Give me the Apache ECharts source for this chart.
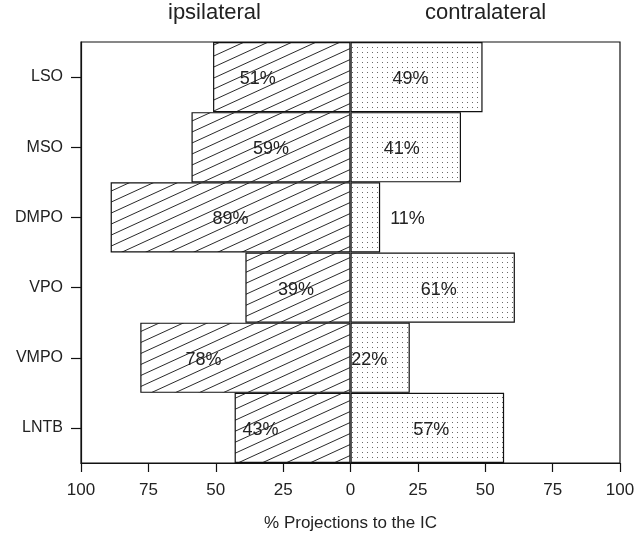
<!DOCTYPE html>
<html>
<head>
<meta charset="utf-8">
<script src="https://cdn.jsdelivr.net/npm/echarts@6/dist/echarts.min.js"></script>
<style>html,body{margin:0;padding:0;background:#fff}#c{width:639px;height:533px}</style>
</head>
<body>
<div id="c"></div>
<script>
var categories = ['LSO', 'MSO', 'DMPO', 'VPO', 'VMPO', 'LNTB'];
var ipsilateral = [51, 59, 89, 39, 78, 43];
var contralateral = [49, 41, 11, 61, 22, 57];
var xTicks = [-100, -75, -50, -25, 0, 25, 50, 75, 100];

// label horizontal nudges (layout only)
var ipsiShift = [-24, 0, 0, -2, -42, -32];
var contraShift = [-6, -4, 0, 6, -11, 4];

function hatchPattern() {
  var c = document.createElement('canvas');
  c.width = 24; c.height = 11;
  var g = c.getContext('2d');
  g.fillStyle = '#fff'; g.fillRect(0, 0, 24, 11);
  g.strokeStyle = '#111'; g.lineWidth = 0.9;
  for (var n = -1; n <= 1; n++) {
    g.beginPath();
    g.moveTo(-2, 11 + 11 * n + 2 * 11 / 24);
    g.lineTo(26, 11 + 11 * n - 26 * 11 / 24);
    g.stroke();
  }
  return c;
}
function dotPattern() {
  var c = document.createElement('canvas');
  c.width = 5; c.height = 5;
  var g = c.getContext('2d');
  g.fillStyle = '#fff'; g.fillRect(0, 0, 5, 5);
  g.fillStyle = '#6a6a6a'; g.fillRect(2, 2, 1, 1);
  return c;
}

var font = 'Liberation Sans';
var txt = '#222';
var chart = echarts.init(document.getElementById('c'), null, {renderer: 'canvas'});

var ipsiData = ipsilateral.map(function (v, i) {
  return {value: -v, label: {offset: [ipsiShift[i], 2]}};
});
var contraData = contralateral.map(function (v, i) {
  var item = {value: v, label: {offset: [contraShift[i], 2]}};
  if (v < 20) item.label = {position: 'right', distance: 10, offset: [0, 2]};
  return item;
});

chart.setOption({
  animation: false,
  grid: {left: 81, right: 19, top: 42, bottom: 70, outerBoundsMode: 'none', containLabel: false,
    show: true, borderColor: '#111', borderWidth: 1.2, backgroundColor: 'transparent'},
  graphic: [
    {type: 'text', left: 168, top: 2, style: {text: 'ipsilateral', font: '22px "Liberation Sans"', fill: txt}},
    {type: 'text', left: 425, top: 2, style: {text: 'contralateral', font: '22px "Liberation Sans"', fill: txt}}
  ],
  xAxis: {
    type: 'value', min: -100, max: 100, interval: 25,
    axisLine: {show: true, onZero: false, lineStyle: {color: '#111', width: 1.2}},
    axisTick: {show: true, inside: false, length: 9, lineStyle: {color: '#111', width: 1.2}},
    splitLine: {show: false},
    axisLabel: {
      margin: 19, fontFamily: font, fontSize: 17, color: txt,
      formatter: function (v) { return xTicks.indexOf(v) >= 0 ? String(Math.abs(v)) : ''; }
    },
    name: '% Projections to the IC', nameLocation: 'middle', nameGap: 52,
    nameTextStyle: {fontFamily: font, fontSize: 17, color: txt}
  },
  yAxis: {
    type: 'category', data: categories, inverse: true,
    axisLine: {show: true, onZero: false, lineStyle: {color: '#111', width: 1.2}},
    axisTick: {show: true, interval: 0, alignWithLabel: true, length: 10, lineStyle: {color: '#111', width: 1.2}},
    axisLabel: {margin: 18, fontFamily: font, fontSize: 16, color: txt},
    splitLine: {show: false}
  },
  series: [
    {
      type: 'bar', name: 'ipsilateral', data: ipsiData,
      barGap: '-100%', barCategoryGap: 0,
      itemStyle: {color: {image: hatchPattern(), repeat: 'repeat'}, borderColor: '#111', borderWidth: 1.2},
      label: {show: true, position: 'inside', fontFamily: font, fontSize: 18, color: txt,
        formatter: function (p) { return Math.abs(p.value) + '%'; }},
      z: 2
    },
    {
      type: 'bar', name: 'contralateral', data: contraData,
      barGap: '-100%', barCategoryGap: 0,
      itemStyle: {color: {image: dotPattern(), repeat: 'repeat'}, borderColor: '#111', borderWidth: 1.2},
      label: {show: true, position: 'inside', fontFamily: font, fontSize: 18, color: txt,
        formatter: function (p) { return Math.abs(p.value) + '%'; }},
      z: 2
    }
  ]
});
</script>
</body>
</html>
